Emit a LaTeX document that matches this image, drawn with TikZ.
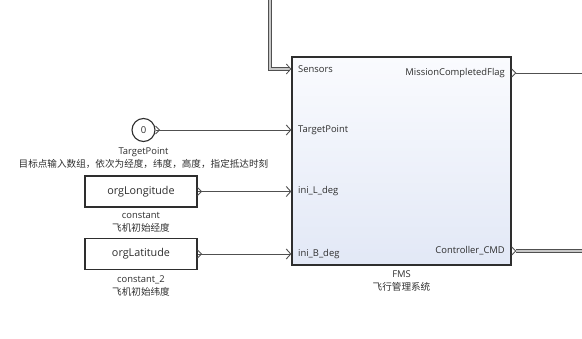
\documentclass[tikz,border=0pt]{standalone}
\usepackage{fontspec}
\setmainfont{Open Sans}
\newfontfamily\cjk{Noto Sans CJK SC}
\usetikzlibrary{arrows.meta,positioning,calc}
\definecolor{cInk}{HTML}{2E2E2E}
\definecolor{cWire}{HTML}{505050}
\definecolor{cBusIn}{HTML}{C8C8C8}
\definecolor{cBlkTop}{HTML}{FAFBFE}
\definecolor{cBlkBot}{HTML}{E2E8F6}
\tikzset{
  blk/.style={draw=cInk,line width=1.3pt,top color=cBlkTop,bottom color=cBlkBot,inner sep=0pt},
  cblk/.style={draw=cInk,line width=1.1pt,fill=white,font=\fontsize{10.8}{12}\selectfont,text=cInk,minimum width=112pt,minimum height=31pt,inner sep=0pt},
  cnum/.style={circle,draw=cInk,line width=1.1pt,fill=white,minimum size=23pt,inner sep=0pt,font=\fontsize{9.5}{11}\selectfont,text=cInk},
  plbl/.style={font=\fontsize{9.4}{10}\selectfont,text=cInk,inner sep=0pt},
  blkname/.style={font=\fontsize{9.4}{13}\selectfont,text=cInk,inner sep=0pt,align=center},
  sig/.style={-{Straight Barb[length=4.5pt,width=10pt]},line width=0.9pt,color=cWire},
  bus/.style={-{Straight Barb[length=4.5pt,width=10pt]},draw=cWire,double=cBusIn,double distance=1.6pt,line width=0.8pt},
  oport/.style={line width=0.9pt,color=cWire},
}

\begin{document}
\begin{tikzpicture}[x=1pt,y=-1pt]
    \useasboundingbox (0,0) rectangle (582,339);
    % FMS subsystem
    \node[blk,minimum width=219pt,minimum height=208pt] (fms) at (401.5,161) {};
    \node[blkname,below=5pt of fms] (fmsName) {FMS\\{\cjk\fontsize{9.6}{13}\selectfont 飞行管理系统}};
    % port labels
    \node[plbl,anchor=west] (pSens) at (298,69) {Sensors};
    \node[plbl,anchor=west] (pTgt) at (298,130) {TargetPoint};
    \node[plbl,anchor=west] (pLon) at (298,191.5) {ini\_L\_deg};
    \node[plbl,anchor=west] (pLat) at (298,254) {ini\_B\_deg};
    \node[plbl,anchor=east] (pMCF) at (505,73) {MissionCompletedFlag};
    \node[plbl,anchor=east] (pCmd) at (505,251) {Controller\_CMD};
    % sources
    \node[cnum] (tgt) at (143.5,130) {0};
    \node[blkname,below=5pt of tgt] (tgtName) {TargetPoint\\{\cjk\fontsize{9.6}{13}\selectfont 目标点输入数组，依次为经度，纬度，高度，指定抵达时刻}};
    \node[cblk] (lon) at (141,191.5) {orgLongitude};
    \node[blkname,below=5pt of lon] (lonName) {constant\\{\cjk\fontsize{9.6}{13}\selectfont 飞机初始经度}};
    \node[cblk] (lat) at (141,254) {orgLatitude};
    \node[blkname,below=5pt of lat] (latName) {constant\_2\\{\cjk\fontsize{9.6}{13}\selectfont 飞机初始纬度}};
    % free ends
    \coordinate (busTop) at (270,0);
    \coordinate (outMCF) at (582,73);
    \coordinate (outCmd) at (582,251);
    % output port marks
    \foreach \p in {tgt.east,lon.east,lat.east,fms.east |- pMCF,fms.east |- pCmd}{
      \draw[oport] ($(\p)+(0,-4)$) -- ++(4,4) -- ++(-4,4);}
    % connections
    \draw[bus] (busTop) |- (fms.west |- pSens);
    \draw[sig] (tgt.east) -- (fms.west |- pTgt);
    \draw[sig] (lon.east) -- (fms.west |- pLon);
    \draw[sig] (lat.east) -- (fms.west |- pLat);
    \draw[oport] ($(fms.east |- pMCF)+(4,0)$) -- (outMCF);
    \draw[oport,line width=0.8pt,double=cBusIn,double distance=1.6pt] ($(fms.east |- pCmd)+(4,0)$) -- (outCmd);
  \end{tikzpicture}
\end{document}
